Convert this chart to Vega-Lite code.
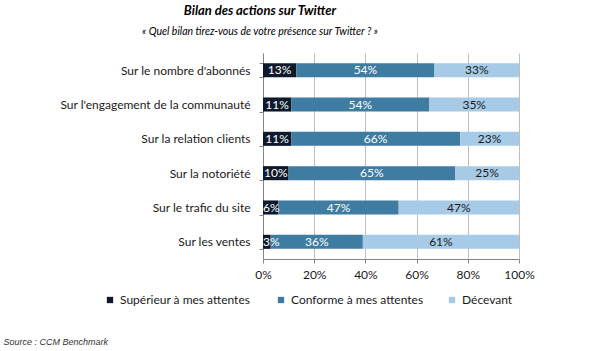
{
  "$schema": "https://vega.github.io/schema/vega-lite/v6.json",
  "width": 256,
  "height": 206,
  "autosize": {"type": "none"},
  "padding": {"left": 263, "top": 53, "right": 81, "bottom": 92},
  "background": "white",
  "title": {
    "text": "Bilan des actions sur Twitter",
    "subtitle": "« Quel bilan tirez-vous de votre présence sur Twitter ? »",
    "anchor": "middle",
    "dx": -131,
    "offset": 10,
    "font": "Lato",
    "fontSize": 13,
    "fontWeight": "bold",
    "fontStyle": "italic",
    "color": "#000000",
    "subtitleFont": "Lato",
    "subtitleFontSize": 10.5,
    "subtitleFontStyle": "italic",
    "subtitleColor": "#000000",
    "subtitlePadding": 9
  },
  "data": {
    "values": [
      {"categorie": "Sur le nombre d'abonnés", "reponse": "Supérieur à mes attentes", "rang": 1, "valeur": 0.13},
      {"categorie": "Sur le nombre d'abonnés", "reponse": "Conforme à mes attentes", "rang": 2, "valeur": 0.54},
      {"categorie": "Sur le nombre d'abonnés", "reponse": "Décevant", "rang": 3, "valeur": 0.33},
      {"categorie": "Sur l'engagement de la communauté", "reponse": "Supérieur à mes attentes", "rang": 1, "valeur": 0.11},
      {"categorie": "Sur l'engagement de la communauté", "reponse": "Conforme à mes attentes", "rang": 2, "valeur": 0.54},
      {"categorie": "Sur l'engagement de la communauté", "reponse": "Décevant", "rang": 3, "valeur": 0.35},
      {"categorie": "Sur la relation clients", "reponse": "Supérieur à mes attentes", "rang": 1, "valeur": 0.11},
      {"categorie": "Sur la relation clients", "reponse": "Conforme à mes attentes", "rang": 2, "valeur": 0.66},
      {"categorie": "Sur la relation clients", "reponse": "Décevant", "rang": 3, "valeur": 0.23},
      {"categorie": "Sur la notoriété", "reponse": "Supérieur à mes attentes", "rang": 1, "valeur": 0.10},
      {"categorie": "Sur la notoriété", "reponse": "Conforme à mes attentes", "rang": 2, "valeur": 0.65},
      {"categorie": "Sur la notoriété", "reponse": "Décevant", "rang": 3, "valeur": 0.25},
      {"categorie": "Sur le trafic du site", "reponse": "Supérieur à mes attentes", "rang": 1, "valeur": 0.06},
      {"categorie": "Sur le trafic du site", "reponse": "Conforme à mes attentes", "rang": 2, "valeur": 0.47},
      {"categorie": "Sur le trafic du site", "reponse": "Décevant", "rang": 3, "valeur": 0.47},
      {"categorie": "Sur les ventes", "reponse": "Supérieur à mes attentes", "rang": 1, "valeur": 0.03},
      {"categorie": "Sur les ventes", "reponse": "Conforme à mes attentes", "rang": 2, "valeur": 0.36},
      {"categorie": "Sur les ventes", "reponse": "Décevant", "rang": 3, "valeur": 0.61}
    ]
  },
  "transform": [
    {"stack": "valeur", "groupby": ["categorie"], "sort": [{"field": "rang"}], "as": ["debut", "fin"]},
    {"calculate": "(datum.debut + datum.fin) / 2", "as": "milieu"}
  ],
  "encoding": {
    "y": {
      "field": "categorie",
      "type": "nominal",
      "sort": null,
      "scale": {"paddingInner": 0.59, "paddingOuter": 0.295},
      "axis": {
        "title": null,
        "tickBand": "extent",
        "domainColor": "#868686",
        "tickColor": "#868686",
        "tickSize": 4,
        "labelPadding": 9,
        "labelFont": "Lato",
        "labelFontSize": 12,
        "labelColor": "#1a1a1a",
        "labelLimit": 400,
        "grid": false
      }
    }
  },
  "layer": [
    {
      "mark": {"type": "bar"},
      "encoding": {
        "x": {
          "field": "debut",
          "type": "quantitative",
          "scale": {"domain": [0, 1], "nice": false},
          "axis": {
            "format": ".0%",
            "values": [0, 0.2, 0.4, 0.6, 0.8, 1],
            "labelFlush": false,
            "labelOverlap": false,
            "grid": true,
            "gridColor": "#bfbfbf",
            "gridWidth": 1,
            "domainColor": "#868686",
            "tickColor": "#868686",
            "tickSize": 4,
            "labelPadding": 6,
            "labelFont": "Lato",
            "labelFontSize": 12,
            "labelColor": "#1a1a1a",
            "title": "Source : CCM Benchmark",
            "titleFont": "Liberation Sans",
            "titleFontSize": 9,
            "titleFontStyle": "italic",
            "titleFontWeight": "normal",
            "titleColor": "#333333",
            "titleAlign": "left",
            "titleBaseline": "middle",
            "titleX": -260,
            "titleY": 82
          }
        },
        "x2": {"field": "fin"},
        "color": {
          "field": "reponse",
          "type": "nominal",
          "sort": ["Supérieur à mes attentes", "Conforme à mes attentes", "Décevant"],
          "scale": {
            "domain": ["Supérieur à mes attentes", "Conforme à mes attentes", "Décevant"],
            "range": ["#0e1a2b", "#3f7ca2", "#a7cbe7"]
          },
          "legend": {
            "title": null,
            "orient": "none",
            "direction": "horizontal",
            "columns": 3,
            "gridAlign": "all",
            "legendX": -159,
            "legendY": 241,
            "symbolType": "square",
            "symbolSize": 40,
            "symbolStrokeWidth": 0,
            "symbolOpacity": 1,
            "labelFont": "Lato",
            "labelFontSize": 12,
            "labelColor": "#1a1a1a",
            "labelLimit": 300,
            "labelOffset": 4,
            "columnPadding": 22
          }
        }
      }
    },
    {
      "transform": [{"filter": "datum.valeur >= 0.08"}],
      "mark": {"type": "text", "font": "Lato", "fontSize": 12, "baseline": "middle", "align": "center"},
      "encoding": {
        "x": {"field": "milieu", "type": "quantitative"},
        "text": {"field": "valeur", "type": "quantitative", "format": ".0%"},
        "color": {
          "condition": {"test": "datum.rang === 3", "value": "#1a1a1a"},
          "value": "#ffffff"
        }
      }
    },
    {
      "transform": [{"filter": "datum.valeur < 0.08"}],
      "mark": {"type": "text", "font": "Lato", "fontSize": 12, "baseline": "middle", "align": "left", "dx": 0},
      "encoding": {
        "x": {"field": "debut", "type": "quantitative"},
        "text": {"field": "valeur", "type": "quantitative", "format": ".0%"},
        "color": {"value": "#ffffff"}
      }
    }
  ],
  "config": {
    "view": {"stroke": null}
  }
}
